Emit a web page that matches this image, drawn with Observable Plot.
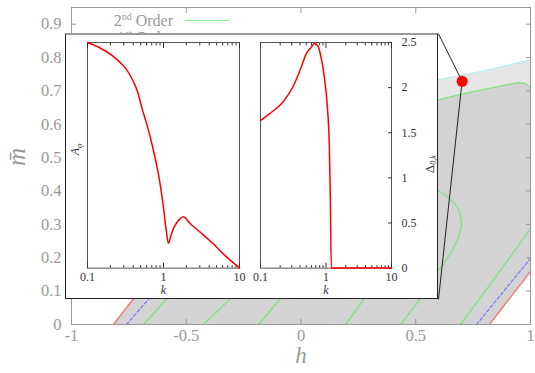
<!DOCTYPE html>
<html>
<head>
<meta charset="utf-8">
<script src="https://cdn.jsdelivr.net/npm/d3@7"></script>
<script src="https://cdn.jsdelivr.net/npm/@observablehq/plot@0.6"></script>
<style>
  html, body { margin: 0; padding: 0; background: #fff; }
  #chart { position: relative; width: 535px; height: 373px; overflow: hidden; font-family: "Liberation Serif", serif; }
  #chart svg, #chart svg text, #chart svg tspan { font-family: "Liberation Serif", serif !important; }
  #chart > svg { position: absolute; left: 0; top: 0; }
  .key { position: absolute; color: #999; font-size: 16px; line-height: 17px; text-align: right; white-space: nowrap; }
  .key sup { font-size: 10px; line-height: 0; }
  .swatch { position: absolute; height: 0; border-top: 1.6px solid #90ee90; }
  #inset { position: absolute; background: #fff; border: 1px solid #222; border-top: 2px solid #9a9a9a; box-sizing: border-box; }
  #inset svg { position: absolute; top: -2px; }
</style>
</head>
<body>
<div id="chart"></div>
<script>
// ---------- main phase diagram ----------
const hTicks = [-1, -0.5, 0, 0.5, 1];
const hTickLabels = ["-1", "-0.5", "0", "0.5", "1"];
const mTicks = [0, 0.1, 0.2, 0.3, 0.4, 0.5, 0.6, 0.7, 0.8, 0.9];
const mTickLabels = ["0", "0.1", "0.2", "0.3", "0.4", "0.5", "0.6", "0.7", "0.8", "0.9"];

// outline of the shaded (stable) domain
const regionH = [-0.817, 0.821, 1.0, 1.0, 0.80, 0.599, 0.50, 0.20, -0.037, -0.817];
const regionM = [0, 0, 0.159, 0.793, 0.760, 0.734, 0.722, 0.700, 0.690, 0];

// outer boundary of the domain
const boundaryH = [0.50, 0.599, 0.80, 1.0];
const boundaryM = [0.722, 0.734, 0.760, 0.793];

// 2nd order contours
const greenTopH = [0.50, 0.599, 0.730, 0.878, 0.948, 0.978, 1.0];
const greenTopM = [0.660, 0.674, 0.695, 0.716, 0.725, 0.722, 0.710];
const greenLoopH = [0.57, 0.599, 0.643, 0.682, 0.699, 0.691, 0.660, 0.621, 0.599, 0.57];
const greenLoopM = [0.41, 0.401, 0.380, 0.350, 0.311, 0.272, 0.222, 0.183, 0.162, 0.14];
const greenDiagH = [
  [-0.686, -0.595, -0.560],
  [-0.425, -0.320, -0.288],
  [-0.185, -0.089, -0.075],
  [0.194, 0.268, 0.285],
  [0.434, 0.512, 0.530],
  [0.695, 0.847, 1.0]
];
const greenDiagM = [
  [0, 0.069, 0.095],
  [0, 0.069, 0.090],
  [0, 0.078, 0.090],
  [0, 0.069, 0.090],
  [0, 0.069, 0.090],
  [0, 0.141, 0.287]
];

// 1st order limits
const redH = [[-0.817, -0.700], [0.821, 1.0]];
const redM = [[0, 0.104], [0, 0.159]];
const blueH = [[-0.760, -0.634], [0.765, 1.0]];
const blueM = [[0, 0.100], [0, 0.198]];

// selected state shown in the inset
const pointH = 0.702;
const pointM = 0.729;

// ---------- inset spectra ----------
const kTicks = [0.1, 1, 10];
const kTickLabels = ["0.1", "1", "10"];
const kMinor = [0.2, 0.3, 0.4, 0.5, 0.6, 0.7, 0.8, 0.9, 2, 3, 4, 5, 6, 7, 8, 9];

const ampK = [0.1, 0.1426, 0.214, 0.321, 0.434, 0.531, 0.618, 0.720, 0.838, 0.929, 0.995, 1.057, 1.10, 1.16, 1.26, 1.39, 1.62, 1.83, 1.98, 2.19, 2.97, 4.45, 6.68, 10];
const ampA = [1.0, 0.978, 0.941, 0.883, 0.801, 0.699, 0.625, 0.537, 0.434, 0.346, 0.272, 0.199, 0.154, 0.110, 0.147, 0.184, 0.216, 0.228, 0.219, 0.201, 0.162, 0.110, 0.051, 0.001];

const gapK = [0.1, 0.137, 0.219, 0.31, 0.417, 0.497, 0.592, 0.666, 0.747, 0.841, 0.944, 1.04, 1.125, 1.164, 1.205, 10];
const gapD = [1.636, 1.71, 1.838, 2.004, 2.224, 2.372, 2.445, 2.489, 2.464, 2.335, 2.114, 1.82, 1.342, 0.79, 0, 0];
const gapTicks = [0, 0.5, 1, 1.5, 2, 2.5];
const gapTickLabels = ["0", "0.5", "1", "1.5", "2", "2.5"];

// ---------- helpers ----------
const pairs = (xs, ys) => xs.map((x, i) => [x, ys[i]]);
const multi = (xss, yss) => xss.flatMap((xs, j) => xs.map((x, i) => ({x, y: yss[j][i], z: j})));
const lookup = (vals, labels) => d => labels[vals.indexOf(d)];
const serif = "Liberation Serif, serif";
const grey = "#999";

// inset placement, in the main diagram's units
const insetBox = {h0: -1.026, h1: 0.599, m0: 0.075, m1: 0.871};

const chart = document.getElementById("chart");

const main = Plot.plot({
  width: 535,
  height: 373,
  marginLeft: 71,
  marginRight: 5,
  marginTop: 7,
  marginBottom: 49,
  x: {domain: [-1, 1]},
  y: {domain: [0, 0.95]},
  style: {fontFamily: serif, fontSize: "16px", color: grey, background: "none", overflow: "visible"},
  marks: [
    Plot.line(pairs(regionH, regionM), {fill: "#d3d3d3", stroke: "none"}),
    Plot.line(pairs(boundaryH.concat(greenTopH.slice().reverse()), boundaryM.concat(greenTopM.slice().reverse())), {fill: "#e6e6e6", stroke: "none"}),
    Plot.line(pairs(boundaryH, boundaryM), {stroke: "#b8eeee", strokeWidth: 1.3}),
    Plot.line(pairs(greenTopH, greenTopM), {stroke: "#85e085", strokeWidth: 1.3}),
    Plot.line(pairs(greenLoopH, greenLoopM), {stroke: "#85e085", strokeWidth: 1.3, curve: "catmull-rom"}),
    Plot.line(multi(greenDiagH, greenDiagM), {x: "x", y: "y", z: "z", stroke: "#85e085", strokeWidth: 1.3}),
    Plot.line(multi(blueH, blueM), {x: "x", y: "y", z: "z", stroke: "#7b7bff", strokeWidth: 1.3, strokeDasharray: "3,2.5"}),
    Plot.line(multi(redH, redM), {x: "x", y: "y", z: "z", stroke: "#f78080", strokeWidth: 1.6}),
    Plot.frame({stroke: grey}),
    Plot.axisX(hTicks, {anchor: "bottom", tickSize: -5, text: null, label: null}),
    Plot.axisX(hTicks, {anchor: "top", tickSize: -5, text: null, label: null}),
    Plot.axisY(mTicks, {anchor: "left", tickSize: -5, text: null, label: null}),
    Plot.axisY(mTicks, {anchor: "right", tickSize: -5, text: null, label: null}),
    Plot.axisX(hTicks, {anchor: "bottom", tickSize: 0, tickPadding: 5, tickFormat: lookup(hTicks, hTickLabels), label: null, fontSize: 16.5}),
    Plot.axisY(mTicks, {anchor: "left", tickSize: 0, tickPadding: 10, tickFormat: lookup(mTicks, mTickLabels), label: null, fontSize: 16.5}),
    Plot.text(["h"], {frameAnchor: "bottom", dy: 38, fontSize: 23, fontStyle: "italic", fill: grey}),
    Plot.text(["m\u0304"], {frameAnchor: "left", dx: -55, rotate: -90, fontSize: 25, fontStyle: "italic", fill: grey}),
    Plot.link([
      {x1: insetBox.h1, y1: insetBox.m1, x2: pointH, y2: pointM},
      {x1: insetBox.h1, y1: insetBox.m0, x2: pointH, y2: pointM}
    ], {x1: "x1", y1: "y1", x2: "x2", y2: "y2", stroke: "#222", strokeWidth: 1}),
    Plot.dot([[pointH, pointM]], {r: 5.5, fill: "#ff0000", stroke: "none"})
  ]
});
chart.appendChild(main);

// legend (top-left inside the frame)
const key = document.createElement("div");
key.className = "key";
key.style.left = "0px";
key.style.top = "12px";
key.style.width = "173px";
key.innerHTML = "2<sup>nd</sup> Order<br>1<sup>st</sup> Order";
chart.appendChild(key);
const sw1 = document.createElement("div");
sw1.className = "swatch";
Object.assign(sw1.style, {left: "185px", top: "20px", width: "44px"});
chart.appendChild(sw1);

// inset
const sx = main.scale("x"), sy = main.scale("y");
const iLeft = sx.apply(insetBox.h0), iRight = sx.apply(insetBox.h1);
const iTop = sy.apply(insetBox.m1), iBottom = sy.apply(insetBox.m0);
const inset = document.createElement("div");
inset.id = "inset";
Object.assign(inset.style, {
  left: iLeft + "px", top: iTop + "px",
  width: (iRight - iLeft) + "px", height: (iBottom - iTop) + "px"
});
chart.appendChild(inset);

const iw = iRight - iLeft, ih = iBottom - iTop;
const insetStyle = {fontFamily: serif, fontSize: "12px", color: "#333", background: "none", overflow: "visible"};
const kAxes = () => [
  Plot.axisX(kMinor, {anchor: "bottom", tickSize: -2.5, text: null, label: null}),
  Plot.axisX(kMinor, {anchor: "top", tickSize: -2.5, text: null, label: null}),
  Plot.axisX(kTicks, {anchor: "bottom", tickSize: -5, text: null, label: null}),
  Plot.axisX(kTicks, {anchor: "top", tickSize: -5, text: null, label: null}),
  Plot.axisX(kTicks, {anchor: "bottom", tickSize: 0, tickPadding: 4, tickFormat: lookup(kTicks, kTickLabels), label: null, fontSize: 12}),
  Plot.text(["k"], {frameAnchor: "bottom", dy: 26, fontSize: 12, fontStyle: "italic", fill: "#333"})
];

const leftW = 184;
const ampPlot = Plot.plot({
  width: leftW,
  height: ih,
  marginLeft: 22,
  marginRight: 10,
  marginTop: 9,
  marginBottom: 31,
  x: {type: "log", domain: [0.1, 10]},
  y: {domain: [0, 1], axis: null},
  style: insetStyle,
  marks: [
    Plot.frame({stroke: "#555"}),
    ...kAxes(),
    Plot.line(pairs(ampK, ampA), {stroke: "#ff0000", strokeWidth: 1.5, curve: "catmull-rom"}),
    Plot.text(["A\u03c6"], {frameAnchor: "left", dx: -12, rotate: -90, fontSize: 12, fontStyle: "italic", fill: "#333"})
  ]
});
ampPlot.style.left = "-1px";
inset.appendChild(ampPlot);

const rightW = iw - leftW;
const gapPlot = Plot.plot({
  width: rightW,
  height: ih,
  marginLeft: 11,
  marginRight: rightW - 142,
  marginTop: 9,
  marginBottom: 31,
  x: {type: "log", domain: [0.1, 10]},
  y: {domain: [0, 2.5]},
  style: insetStyle,
  marks: [
    Plot.frame({stroke: "#555"}),
    ...kAxes(),
    Plot.axisY(gapTicks, {anchor: "right", tickSize: -4, text: null, label: null}),
    Plot.axisY(gapTicks, {anchor: "right", tickSize: 0, tickPadding: 10, textAnchor: "start", tickFormat: lookup(gapTicks, gapTickLabels), label: null, fontSize: 12}),
    Plot.line(pairs(gapK, gapD), {stroke: "#ff0000", strokeWidth: 1.5, curve: "monotone-x"}),
    Plot.text(["\u0394"], {frameAnchor: "right", dx: 38, rotate: -90, fontSize: 13, fill: "#333"})
  ]
});
gapPlot.style.left = (leftW - 1) + "px";
inset.appendChild(gapPlot);

// subscripts on the inset axis names
function subscript(svg, full, base, sub) {
  d3.select(svg).selectAll("text").filter(function () { return this.textContent === full; })
    .each(function () {
      const t = d3.select(this);
      t.text(null);
      t.append("tspan").text(base);
      t.append("tspan").attr("dy", "0.35em").attr("font-size", "8px").attr("font-style", "italic").text(sub);
    });
}
subscript(ampPlot, "A\u03c6", "A", "\u03c6");
subscript(gapPlot, "\u0394", "\u0394", "0,k");
</script>
</body>
</html>
